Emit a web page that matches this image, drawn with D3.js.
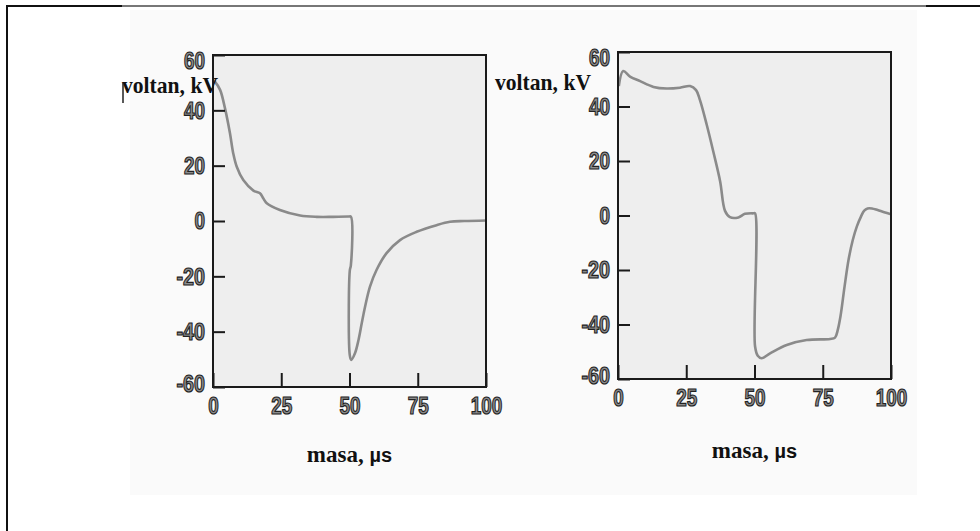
<!DOCTYPE html>
<html>
<head>
<meta charset="utf-8">
<script src="https://cdn.jsdelivr.net/npm/d3@7"></script>
<style>
  body { margin: 0; background: #fff; }
  svg { display: block; }
</style>
</head>
<body>
<svg id="chart" width="980" height="531"></svg>
<script>
const xTicks = [0, 25, 50, 75, 100]
const yTicks = [60, 40, 20, 0, -20, -40, -60]
const yTitle = 'voltan, kV'
const xTitle = 'masa, '
const xUnit = 'µs'

// left panel: decay, then negative spike at 50 us
const time1 = [0, 0.7, 2.6, 4.4, 6.2, 7.4, 8.7, 11.1, 14.8, 17.2, 18.4, 19.7, 24.5, 31.9, 38, 44, 49.6, 50.5,
  50.5, 50.1, 50.1, 50.6, 52, 53.3, 54.5, 55.7, 57.5, 59.9, 63.5, 68.5, 74.6, 81.9, 86.8, 92, 100]
const volt1 = [51, 50.4, 47.4, 40.7, 31.8, 24.5, 19.6, 14.8, 11, 10, 8.2, 6.4, 4, 2, 1.5, 1.5, 1.6, 1.6,
  -16, -18, -48.5, -50.2, -47.8, -43, -36.9, -31, -23.7, -17.7, -11.7, -6.9, -3.9, -1.5, -0.3, 0, 0.2]

// right panel: plateau, fall, negative plateau, recovery
const time2 = [0.3, 1.9, 4.4, 8.1, 13, 17.8, 22.7, 26.4, 28.6, 30, 32.5, 34.9, 37.4, 39.2, 41, 44.1, 46.5, 49.6, 50.2,
  50.2, 51.2, 52.6, 55.7, 61.8, 69.1, 77.7, 79.5, 80.5, 81.5, 83, 84.5, 86, 87.5, 89, 90.2, 91.4, 93, 95.1, 97.5, 100]
const volt2 = [47.5, 53, 51, 49.3, 47.2, 46.6, 46.9, 47.5, 46, 42.4, 33.3, 23.5, 12.6, 1.7, -0.6, -0.7, 0.6, 0.8, 0.8,
  -48, -51.5, -52.4, -50.6, -47.5, -45.7, -45.3, -44.8, -42, -37, -26, -16, -9, -4, -0.4, 1.8, 2.6, 2.6, 2, 1.2, 0.5]

const svg = d3.select('#chart')

// outer page frame and faint scan background
svg.append('rect')
    .attr('x', 130).attr('y', 10)
    .attr('width', 787).attr('height', 485)
    .attr('fill', '#fafafa')
svg.append('line')
    .attr('x1', 7).attr('y1', 6).attr('x2', 980).attr('y2', 6)
    .attr('stroke', '#111').attr('stroke-width', 2)
svg.append('line')
    .attr('x1', 122).attr('y1', 6).attr('x2', 926).attr('y2', 6)
    .attr('stroke', '#777').attr('stroke-width', 2)
svg.append('line')
    .attr('x1', 7).attr('y1', 5).attr('x2', 7).attr('y2', 531)
    .attr('stroke', '#111').attr('stroke-width', 2)

drawPanel({
  left: 213, top: 55, width: 273, height: 332,
  time: time1, volt: volt1,
  yTitleX: 122, yTitleY: 93, xTitleY: 462, cursor: true
})
drawPanel({
  left: 618, top: 52, width: 273, height: 327,
  time: time2, volt: volt2,
  yTitleX: 495, yTitleY: 90, xTitleY: 458, cursor: false
})

// condensed look of the scanned digits
function labelWidth (s) {
  return s.split('').reduce(function (w, c) { return w + (c === '-' ? 7.5 : 10.5) }, 0)
}

function drawPanel (opts) {
  let x = d3.scaleLinear().domain([0, 100]).range([0, opts.width])
  let y = d3.scaleLinear().domain([-60, 60]).range([opts.height, 0])
  let g = svg.append('g')
      .attr('transform', 'translate(' + opts.left + ',' + opts.top + ')')

  g.append('rect')
      .attr('width', opts.width)
      .attr('height', opts.height)
      .attr('fill', '#eeeeee')

  let line = d3.line()
      .x(function (d) { return x(d[0]) })
      .y(function (d) { return y(d[1]) })
      .curve(d3.curveCatmullRom.alpha(0.5))

  g.append('path')
      .datum(d3.zip(opts.time, opts.volt))
      .attr('d', line)
      .attr('fill', 'none')
      .attr('stroke', '#8a8a8a')
      .attr('stroke-width', 2.6)
      .attr('stroke-linejoin', 'round')

  let fmt = function (d) { return String(d) }
  let yAxis = g.append('g')
      .call(d3.axisLeft(y).tickValues(yTicks).tickFormat(fmt).tickSize(-12).tickPadding(8))
  let xAxis = g.append('g')
      .attr('transform', 'translate(0,' + opts.height + ')')
      .call(d3.axisBottom(x).tickValues(xTicks).tickFormat(fmt).tickSize(-14).tickPadding(10))

  ;[yAxis, xAxis].forEach(function (a) {
    a.select('.domain').remove()
    a.selectAll('line').attr('stroke', '#1a1a1a').attr('stroke-width', 2)
    a.selectAll('text')
        .attr('font-family', "'Liberation Sans', Arial, sans-serif")
        .attr('font-size', 24)
        .attr('font-weight', 'bold')
        .attr('fill', '#8c8c8c')
        .attr('stroke', '#222')
        .attr('stroke-width', 1.2)
        .attr('textLength', function (d) { return labelWidth(String(d)) })
        .attr('lengthAdjust', 'spacingAndGlyphs')
  })

  // keep the end labels inside the frame height
  yAxis.selectAll('text')
      .attr('y', function (d) {
        if (d === 60) return 6
        if (d === -60) return -3
        return 0
      })

  g.append('rect')
      .attr('width', opts.width)
      .attr('height', opts.height)
      .attr('fill', 'none')
      .attr('stroke', '#1a1a1a')
      .attr('stroke-width', 2)

  let serif = "'Liberation Serif', 'Times New Roman', serif"

  svg.append('text')
      .attr('x', opts.yTitleX)
      .attr('y', opts.yTitleY)
      .attr('font-family', serif)
      .attr('font-size', 23)
      .attr('font-weight', 'bold')
      .attr('fill', '#111')
      .attr('textLength', 96)
      .attr('lengthAdjust', 'spacingAndGlyphs')
      .text(yTitle)

  if (opts.cursor) {
    svg.append('line')
        .attr('x1', opts.yTitleX + 1).attr('y1', opts.yTitleY - 10)
        .attr('x2', opts.yTitleX + 1).attr('y2', opts.yTitleY + 10)
        .attr('stroke', '#222').attr('stroke-width', 1.5)
  }

  let xt = svg.append('text')
      .attr('x', opts.left + x(50))
      .attr('y', opts.xTitleY)
      .attr('text-anchor', 'middle')
      .attr('font-family', serif)
      .attr('font-size', 23)
      .attr('font-weight', 'bold')
      .attr('fill', '#111')
  xt.append('tspan').text(xTitle)
  xt.append('tspan')
      .attr('font-family', "'Liberation Sans', sans-serif")
      .attr('font-size', 20)
      .text(xUnit)
}
</script>
</body>
</html>
